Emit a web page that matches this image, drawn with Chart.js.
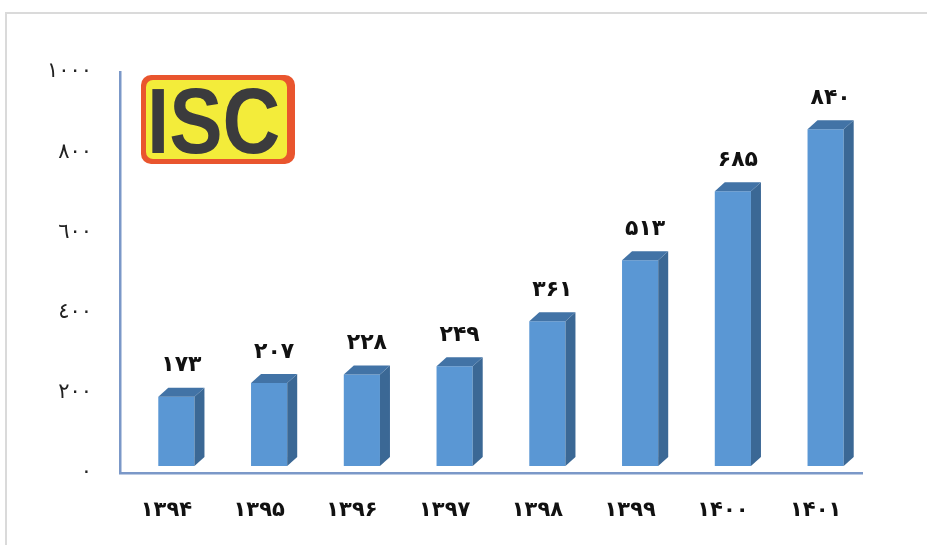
<!DOCTYPE html>
<html lang="fa">

<head>
    <meta charset="UTF-8">
    <script src="https://cdn.jsdelivr.net/npm/chart.js@4.4.0/dist/chart.umd.min.js"></script>
    <title>ISC</title>
    <style>
        html, body { margin: 0; padding: 0; background: #fff; overflow: hidden; }
        .frame {
            position: absolute; left: 5px; top: 12px; width: 1000px; height: 600px;
            border-left: 2px solid #dadada; border-top: 2px solid #dadada;
        }
        #myChart { position: absolute; left: 0; top: 0; }
    </style>
</head>

<body>
    <div class="frame"></div>
    <canvas id="myChart" width="927" height="545"></canvas>

    <script>
        // data
        const categories = ['۱۳۹۴', '۱۳۹۵', '۱۳۹۶', '۱۳۹۷', '۱۳۹۸', '۱۳۹۹', '۱۴۰۰', '۱۴۰۱'];
        const values = [173, 207, 228, 249, 361, 513, 685, 840];
        const yTickLabels = ['٠', '٢٠٠', '٤٠٠', '٦٠٠', '٨٠٠', '١٠٠٠'];

        const faDigits = '۰۱۲۳۴۵۶۷۸۹';
        function toFa(n) {
            return String(n).replace(/[0-9]/g, d => faDigits[d]);
        }

        const SHIFT_X = 10, SHIFT_Y = -7;   // bars sit a bit behind the axis
        const DX = 10, DY = 9;              // depth of the box

        const bar3d = {
            id: 'bar3d',
            beforeDatasetsDraw(chart) {
                chart.ctx.save();
                chart.ctx.translate(SHIFT_X, SHIFT_Y);
            },
            afterDatasetsDraw(chart) {
                const ctx = chart.ctx;
                chart.getDatasetMeta(0).data.forEach(bar => {
                    const l = bar.x - bar.width / 2, r = bar.x + bar.width / 2;
                    // side
                    ctx.fillStyle = '#3b6895';
                    ctx.beginPath();
                    ctx.moveTo(r, bar.y);
                    ctx.lineTo(r + DX, bar.y - DY);
                    ctx.lineTo(r + DX, bar.base - DY);
                    ctx.lineTo(r, bar.base);
                    ctx.closePath();
                    ctx.fill();
                    // top
                    ctx.fillStyle = '#4273a6';
                    ctx.beginPath();
                    ctx.moveTo(l, bar.y);
                    ctx.lineTo(l + DX, bar.y - DY);
                    ctx.lineTo(r + DX, bar.y - DY);
                    ctx.lineTo(r, bar.y);
                    ctx.closePath();
                    ctx.fill();
                });
                ctx.restore();

                // value labels
                ctx.save();
                ctx.fillStyle = '#111';
                ctx.font = 'bold 22px "DejaVu Sans"';
                ctx.textAlign = 'center';
                ctx.textBaseline = 'middle';
                chart.getDatasetMeta(0).data.forEach((bar, i) => {
                    ctx.fillText(toFa(values[i]), bar.x + SHIFT_X + 5, bar.y + SHIFT_Y - 31);
                });
                ctx.restore();
            }
        };

        // ISC logo in the corner
        const logo = {
            id: 'logo',
            afterDraw(chart) {
                const ctx = chart.ctx;
                ctx.save();
                ctx.fillStyle = '#e9552e';
                ctx.beginPath();
                ctx.roundRect(141, 75, 154, 89, 10);
                ctx.fill();
                ctx.fillStyle = '#f3ec3a';
                ctx.beginPath();
                ctx.roundRect(146, 80, 141, 79, 7);
                ctx.fill();
                ctx.fillStyle = '#3b3b3d';
                ctx.font = 'bold 92px "Liberation Sans"';
                ctx.textBaseline = 'alphabetic';
                ctx.translate(147, 153);
                ctx.scale(0.87, 1);
                ctx.fillText('ISC', 0, 0);
                ctx.restore();
            }
        };

        const ctx = document.getElementById('myChart').getContext('2d');
        const myChart = new Chart(ctx, {
            type: 'bar',
            data: {
                labels: categories,
                datasets: [{
                    data: values,
                    backgroundColor: '#5a97d4',
                    borderWidth: 0,
                    barPercentage: 0.39,
                    categoryPercentage: 1,
                    clip: false
                }]
            },
            options: {
                responsive: false,
                animation: false,
                layout: { padding: { top: 72, right: 65, left: 0, bottom: 0 } },
                plugins: {
                    legend: { display: false },
                    tooltip: { enabled: false }
                },
                scales: {
                    x: {
                        grid: { display: false, drawTicks: false },
                        border: { color: '#7b98c8', width: 2.5 },
                        ticks: {
                            color: '#111',
                            padding: 25,
                            font: { family: '"DejaVu Sans"', size: 21, weight: 'bold' }
                        },
                        afterFit(scale) { scale.height = 72; }
                    },
                    y: {
                        min: 0,
                        max: 1000,
                        grid: { display: false, drawTicks: false },
                        border: { color: '#7b98c8', width: 2.5 },
                        ticks: {
                            stepSize: 200,
                            color: '#222',
                            padding: 28,
                            font: { family: '"DejaVu Sans"', size: 21 },
                            callback: (v, i) => yTickLabels[i]
                        },
                        afterFit(scale) { scale.width = 120; }
                    }
                }
            },
            plugins: [bar3d, logo]
        });
    </script>
</body>

</html>
